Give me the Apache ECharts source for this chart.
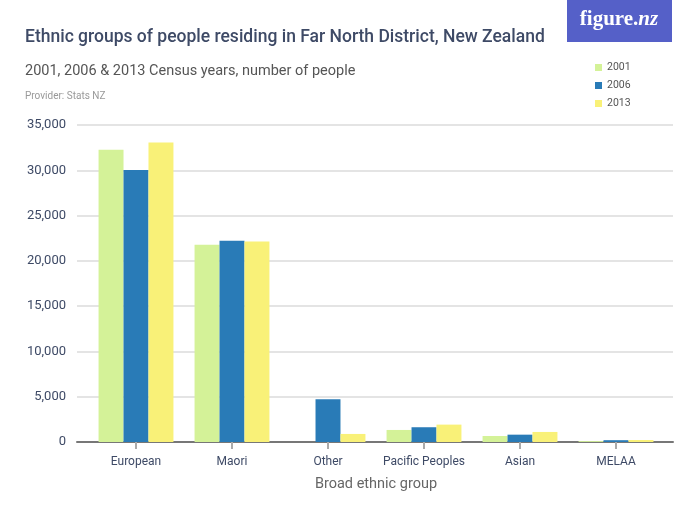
<!DOCTYPE html>
<html>
<head>
<meta charset="utf-8">
<script src="https://cdn.jsdelivr.net/npm/echarts@6/dist/echarts.min.js"></script>
<style>
  html, body { margin: 0; padding: 0; background: #fff; }
  #chart { width: 700px; height: 525px; }
</style>
</head>
<body>
<div id="chart"></div>
<script>
const categories = ['European', 'Maori', 'Other', 'Pacific Peoples', 'Asian', 'MELAA'];
const years = ['2001', '2006', '2013'];
const values2001 = [32270, 21790, null, 1330, 660, 100];
const values2006 = [30030, 22230, 4730, 1630, 810, 200];
const values2013 = [33080, 22150, 890, 1920, 1110, 220];
const colors = ['#d4f298', '#297bb7', '#f9f178'];

const FONT = 'Roboto, sans-serif';
const INK = '#3e4a66';

const chart = echarts.init(document.getElementById('chart'));

const makeSeries = (name, data, i) => ({
    name: name,
    type: 'bar',
    xAxisIndex: 0,
    yAxisIndex: 0,
    data: data,
    barGap: 0,
    barCategoryGap: '22%',
    itemStyle: {color: colors[i]},
    emphasis: {disabled: true}
});

chart.setOption({
    animation: false,
    textStyle: {fontFamily: FONT},
    title: [
        {
            text: 'Ethnic groups of people residing in Far North District, New Zealand',
            left: 25, top: 29, padding: 0,
            textStyle: {fontFamily: FONT, fontSize: 17.5, fontWeight: 500, color: INK}
        },
        {
            text: '2001, 2006 & 2013 Census years, number of people',
            left: 25, top: 64, padding: 0,
            textStyle: {fontFamily: FONT, fontSize: 14.5, fontWeight: 'normal', color: '#555'}
        },
        {
            text: 'Provider: Stats NZ',
            left: 25, top: 91, padding: 0,
            textStyle: {fontFamily: FONT, fontSize: 10, fontWeight: 'normal', color: '#999'}
        }
    ],
    graphic: [
        {
            type: 'rect',
            shape: {x: 567, y: 0, width: 105, height: 42},
            style: {fill: '#5560c8'}
        },
        {
            type: 'text',
            x: 619, y: 20,
            style: {
                text: '{a|figure.}{b|nz}',
                rich: {
                    a: {fill: '#fff', font: 'bold 21px "Liberation Serif", serif'},
                    b: {fill: '#fff', font: 'italic bold 21px "Liberation Serif", serif'}
                },
                align: 'center',
                verticalAlign: 'middle'
            }
        }
    ],
    legend: {
        data: years,
        orient: 'vertical',
        left: 595,
        top: 62,
        padding: 0,
        icon: 'rect',
        itemWidth: 7,
        itemHeight: 7,
        itemGap: 7,
        textStyle: {fontFamily: FONT, fontSize: 10.5, color: '#555'}
    },
    grid: [
        {left: 88, right: 36, top: 125, bottom: 83},
        {left: 77, right: 27, top: 125, bottom: 83}
    ],
    xAxis: [
        {
            type: 'category',
            gridIndex: 0,
            data: categories,
            axisLine: {show: false},
            axisTick: {show: true, alignWithLabel: true, length: 7, lineStyle: {color: '#aaa', width: 2}},
            axisLabel: {color: INK, fontSize: 12, margin: 14, interval: 0, fontFamily: FONT},
            name: 'Broad ethnic group',
            nameLocation: 'middle',
            nameGap: 35,
            nameTextStyle: {color: '#666', fontSize: 14.5, fontFamily: FONT}
        },
        {
            type: 'value',
            gridIndex: 1,
            min: 0, max: 1,
            axisLine: {show: true, onZero: false, lineStyle: {color: '#777', width: 2}},
            axisTick: {show: false},
            axisLabel: {show: false},
            splitLine: {show: false}
        }
    ],
    yAxis: [
        {
            type: 'value',
            gridIndex: 0,
            min: 0, max: 35000, interval: 5000,
            axisLine: {show: false},
            axisTick: {show: false},
            axisLabel: {show: false},
            splitLine: {show: false}
        },
        {
            type: 'value',
            gridIndex: 1,
            min: 0, max: 35000, interval: 5000,
            axisLine: {show: false},
            axisTick: {show: false},
            axisLabel: {
                color: INK, fontSize: 13, margin: 11, fontFamily: FONT,
                formatter: v => v.toLocaleString('en-US')
            },
            splitLine: {lineStyle: {color: '#e4e4e4', width: 2}}
        }
    ],
    series: [
        makeSeries(years[0], values2001, 0),
        makeSeries(years[1], values2006, 1),
        makeSeries(years[2], values2013, 2)
    ]
});
</script>
</body>
</html>
